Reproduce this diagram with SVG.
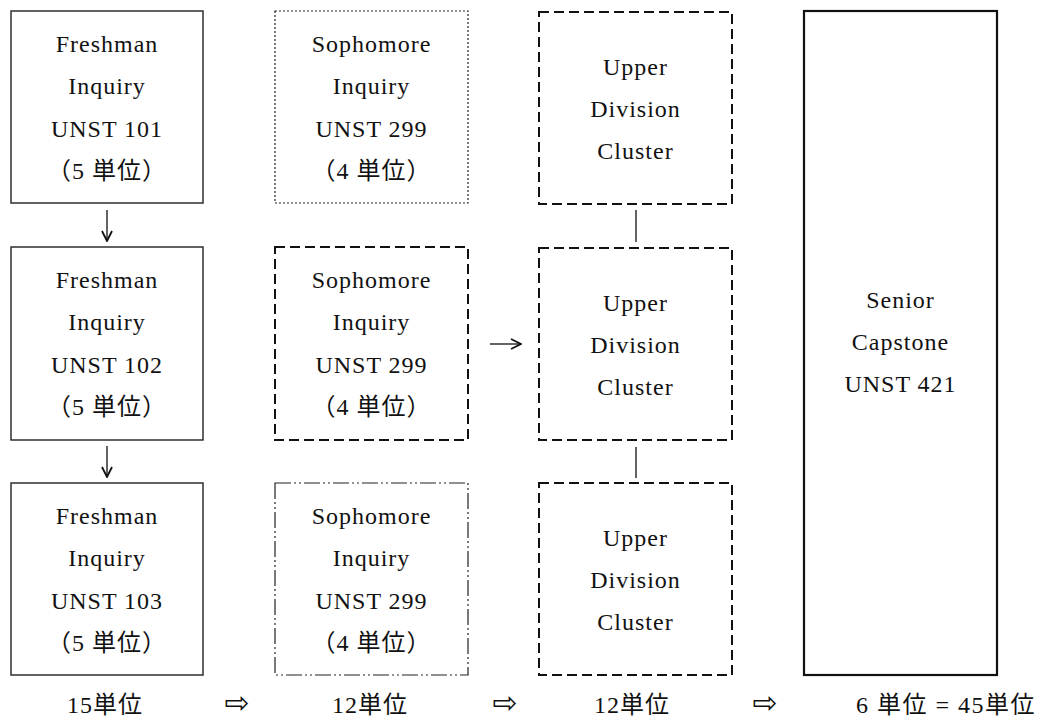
<svg xmlns="http://www.w3.org/2000/svg" width="1052" height="721" viewBox="0 0 1052 721">
<style>
text{font-family:"Liberation Serif","Noto Sans CJK JP",serif;font-size:24px;letter-spacing:1px;fill:#111;text-anchor:middle}
.ar{font-family:"DejaVu Sans",sans-serif;font-size:30px;letter-spacing:0}
.solid{fill:none;stroke:#222;stroke-width:1.4}
.thick{fill:none;stroke:#111;stroke-width:2.2}
.dot{fill:none;stroke:#222;stroke-width:1.2;stroke-dasharray:2 2}
.dash{fill:none;stroke:#111;stroke-width:2;stroke-dasharray:10 5}
.dd{fill:none;stroke:#222;stroke-width:1.2;stroke-dasharray:16 3 2 3 2 3}
.ln{fill:none;stroke:#222;stroke-width:1.4}
</style>
<defs>
<marker id="ah" viewBox="0 0 12 12" refX="11" refY="6" markerWidth="12" markerHeight="12" markerUnits="userSpaceOnUse" orient="auto">
<path d="M1,1 L11,6 L1,11" fill="none" stroke="#111" stroke-width="1.8"/>
</marker>
</defs>
<g id="fresh1"><rect class="solid" x="11" y="11" width="192" height="192"/>
<text x="107" y="52">Freshman</text><text x="107" y="94">Inquiry</text><text x="107" y="137">UNST 101</text><text x="107" y="179">（5 単位）</text></g>
<g id="fresh2"><rect class="solid" x="11" y="247" width="192" height="193"/>
<text x="107" y="288">Freshman</text><text x="107" y="330">Inquiry</text><text x="107" y="373">UNST 102</text><text x="107" y="415">（5 単位）</text></g>
<g id="fresh3"><rect class="solid" x="11" y="483" width="192" height="192"/>
<text x="107" y="524">Freshman</text><text x="107" y="566">Inquiry</text><text x="107" y="609">UNST 103</text><text x="107" y="651">（5 単位）</text></g>
<g id="soph1"><rect class="dot" x="275" y="11" width="193" height="192"/>
<text x="371.5" y="52">Sophomore</text><text x="371.5" y="94">Inquiry</text><text x="371.5" y="137">UNST 299</text><text x="371.5" y="179">（4 単位）</text></g>
<g id="soph2"><rect class="dash" x="275" y="247" width="193" height="193"/>
<text x="371.5" y="288">Sophomore</text><text x="371.5" y="330">Inquiry</text><text x="371.5" y="373">UNST 299</text><text x="371.5" y="415">（4 単位）</text></g>
<g id="soph3"><rect class="dd" x="275" y="483" width="193" height="192"/>
<text x="371.5" y="524">Sophomore</text><text x="371.5" y="566">Inquiry</text><text x="371.5" y="609">UNST 299</text><text x="371.5" y="651">（4 単位）</text></g>
<g id="ud1"><rect class="dash" x="539" y="12" width="193" height="192"/>
<text x="635.5" y="75">Upper</text><text x="635.5" y="117">Division</text><text x="635.5" y="159">Cluster</text></g>
<g id="ud2"><rect class="dash" x="539" y="248" width="193" height="192"/>
<text x="635.5" y="311">Upper</text><text x="635.5" y="353">Division</text><text x="635.5" y="395">Cluster</text></g>
<g id="ud3"><rect class="dash" x="539" y="483" width="193" height="192"/>
<text x="635.5" y="546">Upper</text><text x="635.5" y="588">Division</text><text x="635.5" y="630">Cluster</text></g>
<g id="senior"><rect class="thick" x="804" y="11" width="193" height="664"/>
<text x="900.5" y="308">Senior</text><text x="900.5" y="350">Capstone</text><text x="900.5" y="392">UNST 421</text></g>
<g id="connectors">
<line class="ln" x1="107" y1="210" x2="107" y2="241" marker-end="url(#ah)"/>
<line class="ln" x1="107" y1="446" x2="107" y2="477" marker-end="url(#ah)"/>
<line class="ln" x1="490" y1="344" x2="521" y2="344" marker-end="url(#ah)"/>
<line class="ln" x1="636" y1="210" x2="636" y2="242"/>
<line class="ln" x1="636" y1="447" x2="636" y2="478"/>
</g>
<g id="totals">
<text x="105" y="713">15単位</text>
<text class="ar" x="237" y="713">⇨</text>
<text x="370" y="713">12単位</text>
<text class="ar" x="505" y="713">⇨</text>
<text x="632" y="713">12単位</text>
<text class="ar" x="765" y="713">⇨</text>
<text x="946" y="713" style="letter-spacing:1.5px">6 単位 = 45単位</text>
</g>
</svg>
